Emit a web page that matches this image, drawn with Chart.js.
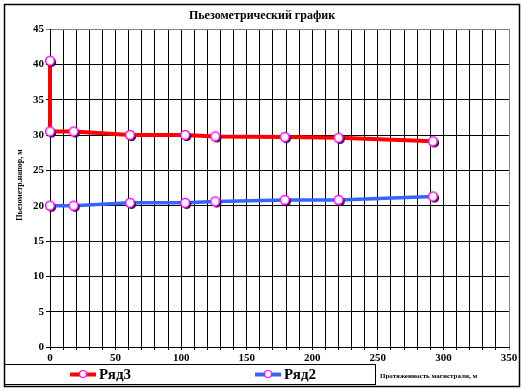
<!DOCTYPE html>
<html><head><meta charset="utf-8">
<script src="https://cdn.jsdelivr.net/npm/chart.js@4/dist/chart.umd.min.js"></script>
<style>html,body{margin:0;padding:0;background:#fff}#wrap{width:523px;height:391px;position:relative}</style>
</head><body><div id="wrap"><canvas id="c" width="523" height="391"></canvas></div>
<script>
const chartTitle = 'Пьезометрический график';
const xTitle = 'Протяженность магистрали, м';
const yTitle = 'Пьезометр.напор, м';
const seriesNames = ['Ряд3', 'Ряд2'];
const series3X = [0, 0, 18, 61, 103, 126, 179, 220, 292];
const series3Y = [40.5, 30.5, 30.5, 30, 30, 29.8, 29.7, 29.6, 29.1];
const series2X = [0, 18, 61, 103, 126, 179, 220, 292];
const series2Y = [20, 20, 20.4, 20.4, 20.6, 20.8, 20.8, 21.3];
const xTickLabels = [0, 50, 100, 150, 200, 250, 300, 350];

const FONT = "'Liberation Serif', 'Times New Roman', serif";
const RED = '#ff0000', BLUE = '#3366ff', MAG = '#ff00ff';

function markerImg() {
  const c = document.createElement('canvas');
  c.width = 18; c.height = 18;
  const g = c.getContext('2d');
  g.fillStyle = '#000';
  g.beginPath(); g.arc(10.5, 10.5, 4.6, 0, 2 * Math.PI); g.fill();
  g.fillStyle = '#fff'; g.strokeStyle = MAG; g.lineWidth = 1.5;
  g.beginPath(); g.arc(9, 9, 4.4, 0, 2 * Math.PI); g.fill(); g.stroke();
  return c;
}
const mk = markerImg();

function pts(xs, ys) { return xs.map((x, i) => ({ x: x, y: ys[i] })); }

const decor = {
  id: 'decor',
  afterDraw(chart) {
    const ctx = chart.ctx;
    ctx.save();
    ctx.strokeStyle = '#000'; ctx.lineWidth = 1.5;
    ctx.strokeRect(4.5, 4.5, 515, 382);
    ctx.fillStyle = '#000';
    ctx.font = 'bold 12px ' + FONT;
    ctx.textAlign = 'center'; ctx.textBaseline = 'middle';
    ctx.fillText(chartTitle, 262, 16);
    ctx.save();
    ctx.translate(20, 185); ctx.rotate(-Math.PI / 2);
    ctx.font = 'bold 8px ' + FONT;
    ctx.fillText(yTitle, 0, 0);
    ctx.restore();
    ctx.font = 'bold 7px ' + FONT;
    ctx.textAlign = 'left';
    ctx.fillText(xTitle, 380, 376);
    ctx.lineWidth = 1;
    ctx.strokeRect(4.5, 364.5, 371, 20);
    const items = [[70, RED, seriesNames[0]], [255, BLUE, seriesNames[1]]];
    items.forEach(([x0, col, name]) => {
      ctx.strokeStyle = col; ctx.lineWidth = 4;
      ctx.beginPath(); ctx.moveTo(x0, 374.5); ctx.lineTo(x0 + 26, 374.5); ctx.stroke();
      ctx.fillStyle = '#fff'; ctx.strokeStyle = MAG; ctx.lineWidth = 1.2;
      ctx.beginPath(); ctx.arc(x0 + 13, 374, 3.5, 0, 2 * Math.PI); ctx.fill(); ctx.stroke();
      ctx.fillStyle = '#000'; ctx.font = 'bold 15px ' + FONT;
      ctx.textAlign = 'left'; ctx.textBaseline = 'middle';
      ctx.fillText(name, x0 + 29, 375);
    });
    ctx.restore();
  }
};

new Chart(document.getElementById('c'), {
  type: 'scatter',
  data: {
    datasets: [
      { label: seriesNames[0], data: pts(series3X, series3Y), showLine: true, borderColor: RED, borderWidth: 4,
        pointStyle: mk, pointRadius: 5, clip: false, tension: 0 },
      { label: seriesNames[1], data: pts(series2X, series2Y), showLine: true, borderColor: BLUE, borderWidth: 3.5,
        pointStyle: mk, pointRadius: 5, clip: false, tension: 0 }
    ]
  },
  options: {
    responsive: false, devicePixelRatio: 1, animation: false,
    layout: { padding: { left: 0, top: 29, right: 14, bottom: 26 } },
    plugins: { legend: { display: false }, title: { display: false }, tooltip: { enabled: false } },
    scales: {
      x: {
        type: 'linear', min: 0, max: 350,
        afterFit(s) { s.height = 18; },
        ticks: { stepSize: 10, color: '#000', font: { family: FONT, weight: 'bold', size: 11 }, padding: 2, maxRotation: 0, autoSkip: false,
          callback: v => (xTickLabels.includes(v) ? String(v) : '') },
        grid: { color: c => (c.tick && c.tick.value === 350 ? '#808080' : '#000'), lineWidth: 1, tickLength: 3 },
        border: { color: '#000', width: 1 }
      },
      y: {
        type: 'linear', min: 0, max: 45,
        afterFit(s) { s.width = 50; },
        ticks: { stepSize: 5, color: '#000', font: { family: FONT, weight: 'bold', size: 11 }, padding: 2 },
        grid: { color: c => (c.tick && c.tick.value === 45 ? '#808080' : '#000'), lineWidth: 1, tickLength: 4 },
        border: { color: '#000', width: 1 }
      }
    }
  },
  plugins: [decor]
});
</script></body></html>
